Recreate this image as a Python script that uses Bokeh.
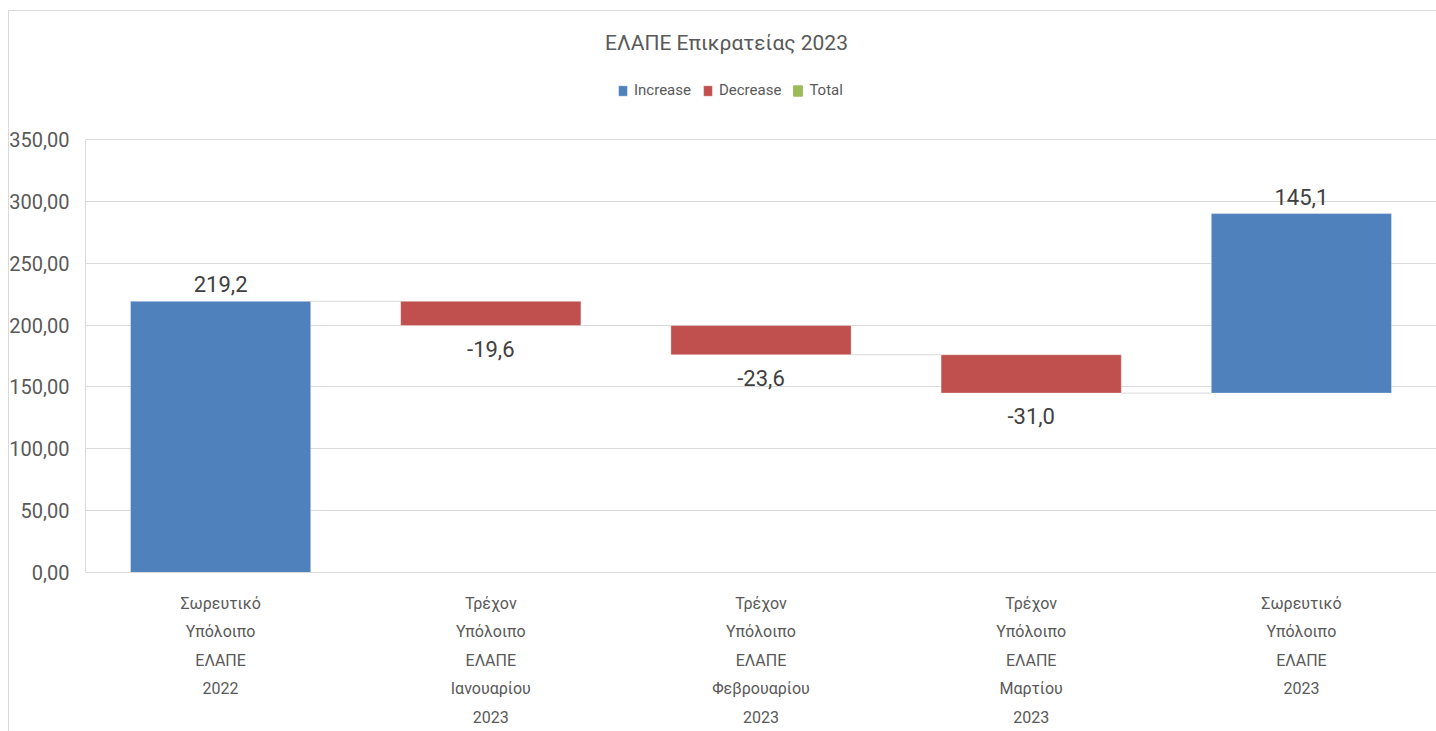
from bokeh.plotting import figure
from bokeh.models import ColumnDataSource, FixedTicker, Legend, LegendItem, Range1d, Label
from bokeh.embed import file_html
from bokeh.resources import INLINE
from bokeh.core.properties import value

# ---- data ----
categories = [
    "Σωρευτικό\nΥπόλοιπο\nΕΛΑΠΕ\n2022",
    "Τρέχον\nΥπόλοιπο\nΕΛΑΠΕ\nΙανουαρίου\n2023",
    "Τρέχον\nΥπόλοιπο\nΕΛΑΠΕ\nΦεβρουαρίου\n2023",
    "Τρέχον\nΥπόλοιπο\nΕΛΑΠΕ\nΜαρτίου\n2023",
    "Σωρευτικό\nΥπόλοιπο\nΕΛΑΠΕ\n2023",
]
values = [219.2, -19.6, -23.6, -31.0, 145.1]
kinds = ["Increase", "Decrease", "Decrease", "Decrease", "Increase"]
value_labels = ["219,2", "-19,6", "-23,6", "-31,0", "145,1"]
y_ticks = [0, 50, 100, 150, 200, 250, 300, 350]
y_tick_labels = ["0,00", "50,00", "100,00", "150,00", "200,00", "250,00", "300,00", "350,00"]
legend_names = ["Increase", "Decrease", "Total"]
chart_title = "ΕΛΑΠΕ Επικρατείας 2023"

FONT = "Roboto"
TXT = "#595959"
GRID = "#D9D9D9"
COLORS = {"Increase": "#4F81BD", "Decrease": "#C0504D", "Total": "#9BBB59"}
BAR_W = 0.667

# layout (pixels)
W, H = 1436, 731
B_LEFT, B_BOTTOM = 85, 159
AXIS_PX = 433                       # pixel height of the 0..350 value axis
Y_MAX = y_ticks[-1]
frame_h = H - B_BOTTOM
Y_TOP = Y_MAX * frame_h / AXIS_PX   # frame extends above the axis to hold title + legend

# waterfall geometry
xs = list(range(1, len(values) + 1))
bottoms, tops, ends = [], [], []
running = 0.0
for v in values:
    start = running
    running = running + v
    bottoms.append(min(start, running))
    tops.append(max(start, running))
    ends.append(running)

def subset(kind):
    idx = [i for i, k in enumerate(kinds) if k == kind]
    return ColumnDataSource(dict(
        x=[xs[i] for i in idx], bottom=[bottoms[i] for i in idx], top=[tops[i] for i in idx],
        lbl=[value_labels[i] for i in idx],
    ))

p = figure(width=W, height=H, output_backend="svg", toolbar_location=None,
           x_range=Range1d(0.5, len(values) + 0.5), y_range=Range1d(0, Y_TOP),
           min_border_left=B_LEFT, min_border_right=0, min_border_top=0, min_border_bottom=B_BOTTOM)
p.outline_line_color = None
# chart-area frame (thin grey line at top and left), drawn as a CSS background behind a transparent canvas
p.border_fill_alpha = 0
p.background_fill_alpha = 0
p.styles = {
    "background-color": "white",
    "background-image": "linear-gradient(#D9D9D9, #D9D9D9), linear-gradient(#D9D9D9, #D9D9D9)",
    "background-size": "100% 1px, 1px 100%",
    "background-position": "8px 10px, 8px 10px",
    "background-repeat": "no-repeat",
}

# connectors
con = ColumnDataSource(dict(
    x0=[xs[i] + BAR_W / 2 for i in range(len(values) - 1)],
    x1=[xs[i + 1] - BAR_W / 2 for i in range(len(values) - 1)],
    y=[ends[i] for i in range(len(values) - 1)],
))
p.segment(x0="x0", y0="y", x1="x1", y1="y", source=con, line_color=GRID, line_width=1)

renderers = {}
for kind in legend_names:
    src = subset(kind)
    if kind == "Total" and len(src.data["x"]) == 0:
        # no total bars in this chart: legend swatch only (hidden renderer)
        src = subset("Increase")
        renderers[kind] = p.vbar(x="x", bottom="bottom", top="top", width=BAR_W, source=src,
                                 fill_color=COLORS[kind], line_color=COLORS[kind], visible=False)
        continue
    renderers[kind] = p.vbar(x="x", bottom="bottom", top="top", width=BAR_W, source=src,
                             fill_color=COLORS[kind], line_color="#ffffff", line_alpha=0.35, line_width=1)
    if kind == "Increase":
        p.text(x="x", y="top", text="lbl", source=src, text_align="center", text_baseline="bottom",
               y_offset=-9, text_font=value(FONT), text_font_size="22px", text_color="#404040")
    elif kind == "Decrease":
        p.text(x="x", y="bottom", text="lbl", source=src, text_align="center", text_baseline="top",
               y_offset=15, text_font=value(FONT), text_font_size="22px", text_color="#404040")

# axes
p.xaxis.ticker = FixedTicker(ticks=xs)
p.xaxis.major_label_overrides = {x: c for x, c in zip(xs, categories)}
p.xaxis.major_label_text_font = FONT
p.xaxis.major_label_text_font_size = "16px"
p.xaxis.major_label_text_color = TXT
p.xaxis.major_label_text_line_height = 1.5
p.xaxis.major_label_standoff = 15
p.xaxis.axis_line_color = GRID
p.xaxis.major_tick_line_color = None
p.xaxis.minor_tick_line_color = None

p.yaxis.ticker = FixedTicker(ticks=y_ticks)
p.yaxis.bounds = (0, Y_MAX)
p.yaxis.major_label_overrides = {t: l for t, l in zip(y_ticks, y_tick_labels)}
p.yaxis.major_label_text_font = FONT
p.yaxis.major_label_text_font_size = "20px"
p.yaxis.major_label_text_color = TXT
p.yaxis.major_label_standoff = 10
p.yaxis.axis_line_color = GRID
p.yaxis.major_tick_line_color = None
p.yaxis.minor_tick_line_color = None

p.xgrid.grid_line_color = None
p.ygrid.grid_line_color = GRID
p.ygrid.grid_line_width = 1
p.ygrid.bounds = (0, Y_MAX)

# title (inside the frame's upper band, screen px from frame bottom-left)
p.add_layout(Label(x=641, y=frame_h - 42, x_units="screen", y_units="screen", text=chart_title,
                   text_align="center", text_baseline="middle", text_font=FONT,
                   text_font_size="21px", text_color=TXT))

legend = Legend(items=[LegendItem(label=n, renderers=[renderers[n]]) for n in legend_names],
                location=(532, frame_h - 99), orientation="horizontal", border_line_color=None,
                background_fill_alpha=0, padding=0, margin=0, glyph_width=11, glyph_height=13,
                label_text_font=FONT, label_text_font_size="15px", label_text_color=TXT,
                label_standoff=6, spacing=11, label_height=14,
                inactive_fill_alpha=0, click_policy="none")
p.add_layout(legend)

open("out.html", "w").write(file_html(p, INLINE))
